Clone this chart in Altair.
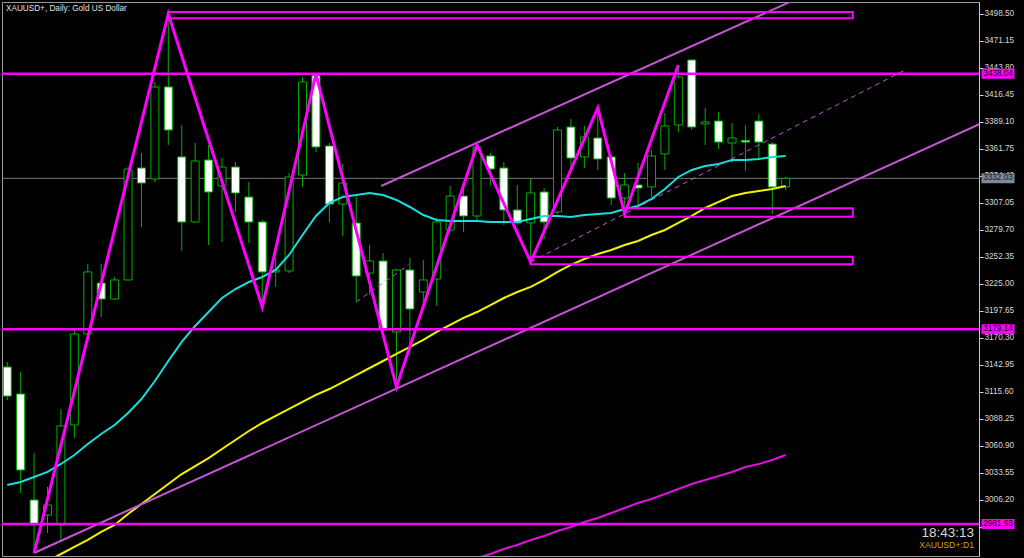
import altair as alt
import pandas as pd

# ---- daily bars (bar index 0 = first full candle on the left) ----
bar_idx = list(range(-1, 58))
open_ = [3140.9, 3113.6, 3006.2, 2991.0, 2980.9, 3082.2, 3174.4, 3226.0, 3209.8, 3229.1,
         3342.5, 3331.4, 3424.6, 3353.7, 3287.8, 3350.6, 3324.3, 3343.5, 3313.1, 3287.8,
         3237.2, 3238.2, 3335.4, 3436.2, 3364.8, 3306.0, 3286.8, 3236.1, 3248.3, 3176.4,
         3239.2, 3216.9, 3230.1, 3279.7, 3314.1, 3293.9, 3354.7, 3342.5, 3300.0, 3286.8,
         3318.2, 3297.9, 3384.0, 3353.7, 3372.9, 3353.7, 3312.1, 3325.3, 3323.3, 3356.7,
         3386.1, 3451.9, 3387.1, 3390.1, 3367.8, 3370.5, 3390.1, 3366.8, 3323.3]
high = [3146.0, 3135.9, 3053.8, 3019.4, 3098.4, 3178.4, 3245.3, 3245.3, 3232.1, 3343.5,
        3357.7, 3429.6, 3498.5, 3386.1, 3367.8, 3365.8, 3352.6, 3348.6, 3328.3, 3289.8,
        3252.4, 3337.4, 3434.7, 3437.7, 3367.8, 3346.6, 3313.1, 3264.5, 3256.4, 3240.2,
        3251.3, 3249.3, 3291.9, 3324.3, 3324.3, 3365.8, 3357.7, 3348.6, 3325.3, 3331.4,
        3322.2, 3384.0, 3392.1, 3385.1, 3403.3, 3355.7, 3337.4, 3347.6, 3360.7, 3398.2,
        3446.8, 3452.9, 3403.3, 3399.2, 3388.1, 3386.1, 3397.2, 3368.8, 3333.4]
low = [3107.5, 3013.3, 2952.5, 2972.8, 2965.7, 3069.0, 3170.3, 3191.6, 3208.8, 3228.0,
       3282.7, 3328.3, 3365.8, 3258.4, 3286.8, 3264.5, 3267.5, 3297.9, 3266.5, 3201.7,
       3222.0, 3236.1, 3323.3, 3358.7, 3287.8, 3273.6, 3206.8, 3213.9, 3176.4, 3120.7,
       3153.1, 3203.7, 3202.7, 3277.7, 3277.7, 3287.8, 3325.3, 3284.8, 3284.8, 3247.3,
       3270.6, 3295.9, 3340.5, 3342.5, 3340.5, 3305.0, 3295.9, 3305.0, 3313.1, 3340.5,
       3379.0, 3381.0, 3365.8, 3361.7, 3347.6, 3339.5, 3350.6, 3295.9, 3320.2]
close = [3111.5, 3036.6, 2980.9, 3001.1, 3081.2, 3174.4, 3237.2, 3209.8, 3229.1, 3341.5,
         3327.3, 3424.6, 3381.0, 3287.8, 3349.6, 3318.2, 3343.5, 3317.2, 3287.8, 3237.2,
         3239.2, 3333.4, 3429.6, 3363.8, 3306.0, 3327.3, 3233.1, 3248.3, 3178.4, 3239.2,
         3199.7, 3229.1, 3287.8, 3314.1, 3293.9, 3363.8, 3341.5, 3300.0, 3286.8, 3317.2,
         3287.8, 3381.0, 3352.6, 3373.9, 3351.6, 3312.1, 3325.3, 3322.2, 3354.7, 3385.1,
         3434.7, 3384.0, 3389.1, 3368.8, 3372.9, 3368.8, 3368.8, 3323.3, 3332.03]

# ---- moving averages ----
ma_fast_idx = list(range(-1, 58))
ma_fast = [3021.4, 3024.4, 3029.5, 3034.6, 3042.7, 3051.8, 3062.9, 3073.1, 3082.2, 3094.3,
           3108.5, 3126.7, 3147.0, 3166.3, 3182.5, 3196.6, 3210.8, 3219.9, 3227.0, 3232.1,
           3239.2, 3254.4, 3274.6, 3293.9, 3307.1, 3313.1, 3315.2, 3317.2, 3315.2, 3310.1,
           3303.0, 3294.9, 3289.8, 3288.8, 3288.8, 3288.8, 3287.8, 3287.8, 3287.8, 3290.8,
           3293.9, 3293.9, 3292.9, 3294.9, 3295.9, 3296.9, 3301.0, 3304.0, 3311.1, 3321.2,
           3333.4, 3340.5, 3344.5, 3346.6, 3350.6, 3350.6, 3351.6, 3353.7, 3354.7]
ma_mid_idx = list(range(2, 58))
ma_mid = [2944.4, 2951.5, 2958.6, 2965.7, 2973.8, 2980.9, 2992.0, 3002.2, 3012.3, 3022.4,
          3032.5, 3040.6, 3048.7, 3057.9, 3067.0, 3076.1, 3084.2, 3091.3, 3098.4, 3105.5,
          3112.6, 3118.6, 3125.7, 3132.8, 3139.9, 3147.0, 3154.1, 3161.2, 3168.3, 3176.4,
          3183.5, 3190.6, 3196.6, 3203.7, 3210.8, 3216.9, 3222.0, 3229.1, 3237.2, 3244.3,
          3250.3, 3255.4, 3259.4, 3264.5, 3268.6, 3274.6, 3279.7, 3286.8, 3293.9, 3302.0,
          3308.1, 3314.1, 3317.2, 3319.2, 3321.2, 3324.3]
ma_slow_idx = list(range(32, 58))
ma_slow = [2938.3, 2943.4, 2947.5, 2951.5, 2956.6, 2960.6, 2965.7, 2969.7, 2974.8, 2978.9,
           2983.9, 2988.0, 2993.0, 2998.1, 3003.2, 3007.2, 3012.3, 3017.3, 3022.4, 3026.5,
           3030.5, 3034.6, 3039.6, 3042.7, 3046.7, 3051.8]

# ---- chart objects ----
zz_bars = [1, 11, 18, 22, 28, 34, 38, 43, 45, 49]
zz_kind = ["L", "H", "L", "H", "L", "H", "L", "H", "L", "H"]

levels = [3438.04, 3179.14, 2981.93]
bid = 3332.03

rect_x0 = [11, 45, 38]
rect_x1 = [62, 62, 62]
rect_top = [3500.5, 3301.7, 3252.7]
rect_bot = [3494.1, 3293.2, 3245.0]

# trend lines: (name, x0, p0, x1, p1, extend to the right, dashed)
trend_lines = [
    ("channel_low", 1.0, 2952.5, 28.0, 3119.0, True, False),
    ("channel_high", 26.86, 3324.3, 34.0, 3368.0, True, False),
    ("support", 38.0, 3247.3, 65.9, 3441.8, False, True),
    ("short", 25.0, 3206.8, 28.9, 3244.2, False, True),
]

tick_values = [3498.50, 3471.15, 3443.80, 3416.45, 3389.10, 3361.75, 3334.40, 3307.05,
               3279.70, 3252.35, 3225.00, 3197.65, 3170.30, 3142.95, 3115.60, 3088.25,
               3060.90, 3033.55, 3006.20, 2978.85]

title_text = "XAUUSD+, Daily:  Gold US Dollar"
clock_text = "18:43:13"
symbol_text = "XAUUSD+:D1"

# ---- styling ----
GREEN = "#00b000"
MAGENTA = "#ff00ff"
LILAC = "#c455d4"
FONT = "Liberation Sans"

assert len(open_) == len(high) == len(low) == len(close) == len(bar_idx)
assert len(ma_fast) == len(ma_fast_idx) and len(ma_mid) == len(ma_mid_idx)
assert len(ma_slow) == len(ma_slow_idx)

bars = pd.DataFrame({"i": bar_idx, "open": open_, "high": high, "low": low, "close": close})
bars["dir"] = ["up" if c >= o else "down" for o, c in zip(open_, close)]

xs = alt.Scale(domain=[-1.018, 71.03], nice=False, zero=False)
ys = alt.Scale(domain=[2949.47, 3510.65], nice=False, zero=False)

y_axis = alt.Axis(orient="right", values=tick_values, format=".2f", title=None,
                  labelColor="#d8d8d8", labelFont=FONT, labelFontSize=8.2,
                  tickColor="#d8d8d8", tickSize=4, labelPadding=1,
                  domainColor="#c8c8c8", grid=False, labelOverlap=False,
                  labelFlush=False)


def X(field):
    return alt.X(field, type="quantitative", scale=xs, axis=None)


def Y(field):
    # every layer carries the same right-hand price scale
    return alt.Y(field, type="quantitative", scale=ys, axis=y_axis)


bid_line = alt.Chart(pd.DataFrame({"p": [bid]})).mark_rule(
    color="#7a7a7a", strokeWidth=1).encode(y=Y("p"))

wicks = alt.Chart(bars).mark_rule(color=GREEN, strokeWidth=1, clip=True).encode(
    x=X("i"), y=Y("low"), y2="high:Q")

bodies = alt.Chart(bars).mark_bar(width=8, stroke=GREEN, strokeWidth=1, clip=True).encode(
    x=X("i"),
    y=Y("open"),
    y2="close:Q",
    fill=alt.Fill("dir:N", scale=alt.Scale(domain=["up", "down"],
                                           range=["#000000", "#ffffff"]), legend=None),
)


def ma_layer(idx, vals, color):
    df = pd.DataFrame({"i": idx, "v": vals})
    return alt.Chart(df).mark_line(color=color, strokeWidth=2, clip=True).encode(
        x=X("i"), y=Y("v"))


ma_layers = [
    ma_layer(ma_slow_idx, ma_slow, "#e010e0"),
    ma_layer(ma_mid_idx, ma_mid, "#f2f200"),
    ma_layer(ma_fast_idx, ma_fast, "#18dede"),
]

# trend line vertices (rays run on past the right edge and get clipped)
rows = []
for name, x0, p0, x1, p1, ray, dashed in trend_lines:
    slope = (p1 - p0) / (x1 - x0)
    xe = 80.0 if ray else x1
    rows.append({"name": name, "i": x0, "p": p0, "seq": 0, "dashed": dashed})
    rows.append({"name": name, "i": xe, "p": p0 + slope * (xe - x0), "seq": 1, "dashed": dashed})
tl = pd.DataFrame(rows)

solid_lines = alt.Chart(tl[~tl["dashed"]]).mark_line(
    color=LILAC, strokeWidth=2, clip=True).encode(
    x=X("i"), y=Y("p"), detail="name:N", order="seq:Q")
dashed_lines = alt.Chart(tl[tl["dashed"]]).mark_line(
    color=LILAC, strokeWidth=1, strokeDash=[5, 4], clip=True).encode(
    x=X("i"), y=Y("p"), detail="name:N", order="seq:Q")

level_lines = alt.Chart(pd.DataFrame({"p": levels})).mark_rule(
    color=MAGENTA, strokeWidth=2.5).encode(y=Y("p"))

rects = alt.Chart(pd.DataFrame({"x0": rect_x0, "x1": rect_x1, "top": rect_top,
                                "bot": rect_bot})).mark_rect(
    fillOpacity=0, stroke=MAGENTA, strokeWidth=2, clip=True).encode(
    x=X("x0"), x2="x1:Q", y=Y("top"), y2="bot:Q")

zz = pd.DataFrame({
    "seq": list(range(len(zz_bars))),
    "i": zz_bars,
    "p": [high[bar_idx.index(b)] if k == "H" else low[bar_idx.index(b)]
          for b, k in zip(zz_bars, zz_kind)],
})
zigzag = alt.Chart(zz).mark_line(color=MAGENTA, strokeWidth=3, clip=True).encode(
    x=X("i"), y=Y("p"), order="seq:Q")

# price tags on the right scale
tag_df = pd.DataFrame({"p": levels})
level_tags = alt.Chart(tag_df).mark_tick(
    orient="horizontal", size=33, thickness=10, color=MAGENTA, opacity=1).encode(
    x=alt.value(996), y=Y("p"))
level_tag_text = alt.Chart(tag_df).mark_text(
    color="#000000", font=FONT, fontSize=8.2, align="center", baseline="middle").encode(
    x=alt.value(996), y=Y("p"), text=alt.Text("p:Q", format=".2f"))

bid_df = pd.DataFrame({"p": [bid]})
bid_tag = alt.Chart(bid_df).mark_tick(
    orient="horizontal", size=33, thickness=10, color="#7d8b99", opacity=1).encode(
    x=alt.value(996), y=Y("p"))
bid_tag_text = alt.Chart(bid_df).mark_text(
    color="#101010", font=FONT, fontSize=8.2, align="center", baseline="middle").encode(
    x=alt.value(996), y=Y("p"), text=alt.Text("p:Q", format=".2f"))

title = alt.Chart(pd.DataFrame({"t": [title_text]})).mark_text(
    color="#e0e0e0", font=FONT, fontSize=8.2, align="left", baseline="middle").encode(
    x=alt.value(4), y=alt.value(6.5), text="t:N")
clock = alt.Chart(pd.DataFrame({"t": [clock_text]})).mark_text(
    color="#d8d8d8", font=FONT, fontSize=13.5, align="right", baseline="alphabetic").encode(
    x=alt.value(972), y=alt.value(535), text="t:N")
symbol = alt.Chart(pd.DataFrame({"t": [symbol_text]})).mark_text(
    color="#c8a400", font=FONT, fontSize=8.7, align="right", baseline="alphabetic").encode(
    x=alt.value(972), y=alt.value(546), text="t:N")

chart = alt.layer(
    bid_line, wicks, bodies, *ma_layers, solid_lines, dashed_lines, level_lines, rects,
    zigzag, level_tags, level_tag_text, bid_tag, bid_tag_text, title, clock, symbol,
).properties(
    width=977, height=554,
    padding={"left": 2, "top": 2, "right": 45, "bottom": 2},
    autosize=alt.AutoSizeParams(type="none"),
    background="#000000",
).configure_view(stroke="#9a9a9a", strokeWidth=1)

chart.save("out.html", embed_options={"renderer": "svg", "actions": False})
